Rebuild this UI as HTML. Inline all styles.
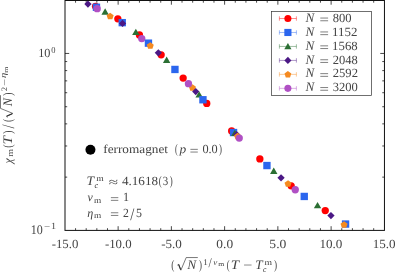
<!DOCTYPE html>
<html><head><meta charset="utf-8"><title>plot</title>
<style>
html,body{margin:0;padding:0;background:#fff;}
body{width:395px;height:272px;overflow:hidden;}
svg{display:block;will-change:transform;font-family:"Liberation Serif",serif;}
text{fill:#444;text-rendering:geometricPrecision;}
.it{font-style:italic;}
</style></head><body>
<svg width="395" height="272" viewBox="0 0 395 272">
<rect width="395" height="272" fill="#fff"/>
<path d="M75.55 230.4v-2.2M75.55 0.5V2.7M86.20 230.4v-2.2M86.20 0.5V2.7M96.84 230.4v-2.2M96.84 0.5V2.7M107.49 230.4v-2.2M107.49 0.5V2.7M118.14 230.4v-4.2M118.14 0.5V4.7M128.79 230.4v-2.2M128.79 0.5V2.7M139.44 230.4v-2.2M139.44 0.5V2.7M150.09 230.4v-2.2M150.09 0.5V2.7M160.74 230.4v-2.2M160.74 0.5V2.7M171.38 230.4v-4.2M171.38 0.5V4.7M182.03 230.4v-2.2M182.03 0.5V2.7M192.68 230.4v-2.2M192.68 0.5V2.7M203.33 230.4v-2.2M203.33 0.5V2.7M213.98 230.4v-2.2M213.98 0.5V2.7M224.62 230.4v-4.2M224.62 0.5V4.7M235.27 230.4v-2.2M235.27 0.5V2.7M245.92 230.4v-2.2M245.92 0.5V2.7M256.57 230.4v-2.2M256.57 0.5V2.7M267.22 230.4v-2.2M267.22 0.5V2.7M277.87 230.4v-4.2M277.87 0.5V4.7M288.51 230.4v-2.2M288.51 0.5V2.7M299.16 230.4v-2.2M299.16 0.5V2.7M309.81 230.4v-2.2M309.81 0.5V2.7M320.46 230.4v-2.2M320.46 0.5V2.7M331.11 230.4v-4.2M331.11 0.5V4.7M341.76 230.4v-2.2M341.76 0.5V2.7M352.40 230.4v-2.2M352.40 0.5V2.7M363.05 230.4v-2.2M363.05 0.5V2.7M373.70 230.4v-2.2M373.70 0.5V2.7M65.0 53.45h4.2M384.45 53.45h-4.2M65.0 177.13h2.2M384.45 177.13h-2.2M65.0 145.97h2.2M384.45 145.97h-2.2M65.0 123.87h2.2M384.45 123.87h-2.2M65.0 106.72h2.2M384.45 106.72h-2.2M65.0 92.71h2.2M384.45 92.71h-2.2M65.0 80.86h2.2M384.45 80.86h-2.2M65.0 70.60h2.2M384.45 70.60h-2.2M65.0 61.55h2.2M384.45 61.55h-2.2" stroke="#1a1a1a" stroke-width="0.8" fill="none"/>
<g>
<path d="M87.95 0.40L91.60 4.05L87.95 7.70L84.30 4.05Z" fill="#4b1885"/>
<circle cx="95.55" cy="6.35" r="3.65" fill="#ff0000"/>
<rect x="92.77" y="3.57" width="7.36" height="7.36" fill="#2b66ee"/>
<circle cx="97.15" cy="8.65" r="3.65" fill="#b050c4"/>
<path d="M105.15 8.35L108.85 14.70L101.45 14.70Z" fill="#2b6f33"/>
<path d="M110.15 12.65L113.67 15.21L112.32 19.34L107.98 19.34L106.63 15.21Z" fill="#f58a20"/>
<circle cx="117.85" cy="18.85" r="3.65" fill="#ff0000"/>
<rect x="118.57" y="18.97" width="7.36" height="7.36" fill="#2b66ee"/>
<path d="M122.55 19.80L126.20 23.45L122.55 27.10L118.90 23.45Z" fill="#4b1885"/>
<circle cx="139.45" cy="34.95" r="3.65" fill="#ff0000"/>
<path d="M135.85 28.65L139.55 35.00L132.15 35.00Z" fill="#2b6f33"/>
<circle cx="141.75" cy="38.55" r="3.65" fill="#b050c4"/>
<rect x="144.77" y="39.47" width="7.36" height="7.36" fill="#2b66ee"/>
<path d="M150.25 42.15L153.77 44.71L152.42 48.84L148.08 48.84L146.73 44.71Z" fill="#f58a20"/>
<circle cx="161.15" cy="54.85" r="3.65" fill="#ff0000"/>
<path d="M158.35 49.20L162.00 52.85L158.35 56.50L154.70 52.85Z" fill="#4b1885"/>
<path d="M166.65 56.55L170.35 62.90L162.95 62.90Z" fill="#2b6f33"/>
<rect x="171.27" y="65.77" width="7.36" height="7.36" fill="#2b66ee"/>
<circle cx="183.15" cy="78.05" r="3.65" fill="#ff0000"/>
<path d="M192.45 84.15L195.97 86.71L194.62 90.84L190.28 90.84L188.93 86.71Z" fill="#f58a20"/>
<circle cx="188.45" cy="83.65" r="3.65" fill="#b050c4"/>
<path d="M195.75 87.90L199.40 91.55L195.75 95.20L192.10 91.55Z" fill="#4b1885"/>
<path d="M199.15 91.25L202.85 97.60L195.45 97.60Z" fill="#2b6f33"/>
<circle cx="206.75" cy="103.45" r="3.65" fill="#ff0000"/>
<rect x="199.27" y="96.07" width="7.36" height="7.36" fill="#2b66ee"/>
<circle cx="231.65" cy="130.95" r="3.65" fill="#ff0000"/>
<rect x="229.87" y="128.87" width="7.36" height="7.36" fill="#2b66ee"/>
<path d="M234.85 129.65L238.55 136.00L231.15 136.00Z" fill="#2b6f33"/>
<path d="M236.65 130.90L240.30 134.55L236.65 138.20L233.00 134.55Z" fill="#4b1885"/>
<path d="M237.65 132.65L241.17 135.21L239.82 139.34L235.48 139.34L234.13 135.21Z" fill="#f58a20"/>
<circle cx="239.25" cy="138.05" r="3.65" fill="#b050c4"/>
<circle cx="259.85" cy="158.95" r="3.65" fill="#ff0000"/>
<rect x="263.27" y="161.87" width="7.36" height="7.36" fill="#2b66ee"/>
<path d="M273.75 167.55L277.45 173.90L270.05 173.90Z" fill="#2b6f33"/>
<path d="M281.05 174.20L284.70 177.85L281.05 181.50L277.40 177.85Z" fill="#4b1885"/>
<circle cx="291.15" cy="185.85" r="3.65" fill="#ff0000"/>
<path d="M288.05 180.15L291.57 182.71L290.22 186.84L285.88 186.84L284.53 182.71Z" fill="#f58a20"/>
<circle cx="295.25" cy="189.75" r="3.65" fill="#b050c4"/>
<rect x="300.57" y="192.77" width="7.36" height="7.36" fill="#2b66ee"/>
<path d="M317.55 201.95L321.25 208.30L313.85 208.30Z" fill="#2b6f33"/>
<circle cx="325.25" cy="210.55" r="3.65" fill="#ff0000"/>
<path d="M330.95 211.90L334.60 215.55L330.95 219.20L327.30 215.55Z" fill="#4b1885"/>
<rect x="341.87" y="220.37" width="7.36" height="7.36" fill="#2b66ee"/>
<path d="M344.05 221.15L347.57 223.71L346.22 227.84L341.88 227.84L340.53 223.71Z" fill="#f58a20"/>
</g>
<rect x="65.0" y="0.5" width="319.45" height="229.9" fill="none" stroke="#111" stroke-width="1"/>
<text transform="translate(51.67,247.60) scale(1.0667,1.0400)" font-size="12">-15.0</text>
<text transform="translate(104.92,247.60) scale(1.0667,1.0400)" font-size="12">-10.0</text>
<text transform="translate(161.15,247.60) scale(1.0888,1.0400)" font-size="12">-5.0</text>
<text transform="translate(216.37,247.60) scale(1.1146,1.0400)" font-size="12">0.0</text>
<text transform="translate(269.33,247.60) scale(1.1339,1.0400)" font-size="12">5.0</text>
<text transform="translate(319.41,247.60) scale(1.0930,1.0400)" font-size="12">10.0</text>
<text transform="translate(372.65,247.60) scale(1.0930,1.0400)" font-size="12">15.0</text>
<text transform="translate(38.17,57.00) scale(1.0202,1.0400)" font-size="12">10</text>
<text transform="translate(51.33,53.00) scale(1.0112,1.0920)" font-size="8.4">0</text>
<text transform="translate(30.79,234.00) scale(1.0011,1.0902)" font-size="12">10</text>
<text transform="translate(44.00,229.09) scale(1.3048,1.0000)" font-size="8.4">−</text>
<text transform="translate(50.95,229.00) scale(1.2174,1.1361)" font-size="8.4">1</text>
<rect x="271.55" y="11.45" width="99.94999999999999" height="84.05" fill="#fff" stroke="#333" stroke-width="0.7"/>
<path d="M279.4 18.50H296.4M279.4 16.30v4.4M296.4 16.30v4.4" stroke="#ff0000" stroke-width="0.6" fill="none" opacity="0.75"/>
<circle cx="287.90" cy="18.50" r="3.54" fill="#ff0000"/>
<text transform="translate(305.45,22.10) scale(1.0985,1.0818)" font-size="12" font-style="italic">N</text>
<path d="M320.30 18.05H328.10M320.30 20.75H328.10" stroke="#333" stroke-width="0.62" fill="none"/>
<text transform="translate(332.77,22.10) scale(1.0476,1.0400)" font-size="12">800</text>
<path d="M279.4 32.47H296.4M279.4 30.27v4.4M296.4 30.27v4.4" stroke="#2b66ee" stroke-width="0.6" fill="none" opacity="0.75"/>
<rect x="284.33" y="28.90" width="7.14" height="7.14" fill="#2b66ee"/>
<text transform="translate(305.45,35.93) scale(1.0985,1.0818)" font-size="12" font-style="italic">N</text>
<path d="M320.30 31.95H328.10M320.30 34.65H328.10" stroke="#333" stroke-width="0.62" fill="none"/>
<text transform="translate(332.11,35.93) scale(1.0770,1.0446)" font-size="12">1152</text>
<path d="M279.4 46.44H296.4M279.4 44.24v4.4M296.4 44.24v4.4" stroke="#2b6f33" stroke-width="0.6" fill="none" opacity="0.75"/>
<path d="M287.90 43.05L291.49 49.21L284.31 49.21Z" fill="#2b6f33"/>
<text transform="translate(305.45,49.76) scale(1.0985,1.0818)" font-size="12" font-style="italic">N</text>
<path d="M320.30 45.85H328.10M320.30 48.55H328.10" stroke="#333" stroke-width="0.62" fill="none"/>
<text transform="translate(332.12,49.76) scale(1.0672,1.0400)" font-size="12">1568</text>
<path d="M279.4 60.41H296.4M279.4 58.21v4.4M296.4 58.21v4.4" stroke="#4b1885" stroke-width="0.6" fill="none" opacity="0.75"/>
<path d="M287.90 56.87L291.44 60.41L287.90 63.95L284.36 60.41Z" fill="#4b1885"/>
<text transform="translate(305.45,63.59) scale(1.0985,1.0818)" font-size="12" font-style="italic">N</text>
<path d="M320.30 59.75H328.10M320.30 62.45H328.10" stroke="#333" stroke-width="0.62" fill="none"/>
<text transform="translate(332.70,63.59) scale(1.0428,1.0400)" font-size="12">2048</text>
<path d="M279.4 74.38H296.4M279.4 72.18v4.4M296.4 72.18v4.4" stroke="#f58a20" stroke-width="0.6" fill="none" opacity="0.75"/>
<path d="M287.90 70.99L291.31 73.47L290.01 77.48L285.79 77.48L284.49 73.47Z" fill="#f58a20"/>
<text transform="translate(305.45,77.42) scale(1.0985,1.0818)" font-size="12" font-style="italic">N</text>
<path d="M320.30 73.65H328.10M320.30 76.35H328.10" stroke="#333" stroke-width="0.62" fill="none"/>
<text transform="translate(332.70,77.42) scale(1.0521,1.0446)" font-size="12">2592</text>
<path d="M279.4 88.35H296.4M279.4 86.15v4.4M296.4 86.15v4.4" stroke="#b050c4" stroke-width="0.6" fill="none" opacity="0.75"/>
<circle cx="287.90" cy="88.35" r="3.54" fill="#b050c4"/>
<text transform="translate(305.45,91.25) scale(1.0985,1.0818)" font-size="12" font-style="italic">N</text>
<path d="M320.30 87.55H328.10M320.30 90.25H328.10" stroke="#333" stroke-width="0.62" fill="none"/>
<text transform="translate(332.65,91.25) scale(1.0449,1.0400)" font-size="12">3200</text>
<circle cx="90.45" cy="149.75" r="5.0" fill="#000"/>
<text transform="translate(103.24,153.30) scale(1.1049,1.0000)" font-size="12">ferromagnet</text>
<text transform="translate(174.99,153.43) scale(0.6814,1.0845)" font-size="12">(</text>
<text transform="translate(179.54,153.30) scale(1.1199,1.0000)" font-size="12" font-style="italic">p</text>
<path d="M190.40 149.35H197.80M190.40 152.05H197.80" stroke="#333" stroke-width="0.62" fill="none"/>
<text transform="translate(202.38,153.30) scale(1.0223,1.0400)" font-size="12">0.0</text>
<text transform="translate(219.06,153.43) scale(0.7463,1.0845)" font-size="12">)</text>
<text transform="translate(86.46,184.70) scale(1.1368,1.0818)" font-size="12" font-style="italic">T</text>
<text transform="translate(96.35,181.10) scale(1.1403,1.0000)" font-size="8.4">m</text>
<text transform="translate(94.50,188.00) scale(0.9764,1.0000)" font-size="8.4" font-style="italic">c</text>
<text transform="translate(108.78,186.37) scale(1.4108,1.0000)" font-size="12">≈</text>
<text transform="translate(121.89,184.70) scale(1.0957,1.0400)" font-size="12">4.1618</text>
<text transform="translate(158.76,184.83) scale(0.7463,1.0845)" font-size="12">(</text>
<text transform="translate(162.63,184.70) scale(0.9078,1.0446)" font-size="12">3</text>
<text transform="translate(169.66,184.83) scale(0.7463,1.0845)" font-size="12">)</text>
<text transform="translate(87.49,201.00) scale(0.9880,1.0000)" font-size="12" font-style="italic">ν</text>
<text transform="translate(94.05,203.00) scale(1.1082,1.0000)" font-size="8.4">m</text>
<path d="M110.90 197.65H118.30M110.90 200.35H118.30" stroke="#333" stroke-width="0.62" fill="none"/>
<text transform="translate(123.08,201.00) scale(1.0178,1.0477)" font-size="12">1</text>
<text transform="translate(87.22,217.00) scale(1.0145,1.0000)" font-size="12" font-style="italic">η</text>
<text transform="translate(94.05,218.00) scale(1.1082,1.0000)" font-size="8.4">m</text>
<path d="M110.90 212.75H118.30M110.90 215.45H118.30" stroke="#333" stroke-width="0.62" fill="none"/>
<text transform="translate(123.03,217.00) scale(0.9770,1.0446)" font-size="12">2</text>
<text transform="translate(130.15,219.73) scale(1.2298,1.4700)" font-size="12">/</text>
<text transform="translate(136.06,217.00) scale(0.9930,1.0563)" font-size="12">5</text>
<text transform="translate(171.34,269.13) scale(0.7787,1.0845)" font-size="12">(</text>
<path d="M177.30 265.20L178.60 264.40L180.90 270.20L186.20 257.55L197.80 257.55" stroke="#303030" stroke-width="0.65" fill="none" stroke-linejoin="miter"/><path d="M178.60 264.40L180.67 269.62" stroke="#303030" stroke-width="1.15" fill="none"/>
<text transform="translate(187.35,269.00) scale(1.1216,1.0818)" font-size="12" font-style="italic">N</text>
<text transform="translate(198.96,269.13) scale(0.7463,1.0845)" font-size="12">)</text>
<text transform="translate(203.25,265.00) scale(1.0821,1.0459)" font-size="8.4">1</text>
<text transform="translate(208.55,266.57) scale(1.3712,1.5661)" font-size="8.4">/</text>
<text transform="translate(213.23,265.00) scale(1.0793,1.0000)" font-size="8.4" font-style="italic">ν</text>
<text transform="translate(218.19,266.00) scale(1.2016,1.0000)" font-size="6.4">m</text>
<text transform="translate(226.87,269.13) scale(0.7138,1.0845)" font-size="12">(</text>
<text transform="translate(230.87,269.00) scale(1.2429,1.0818)" font-size="12" font-style="italic">T</text>
<text transform="translate(243.35,269.38) scale(1.3431,1.0000)" font-size="12">−</text>
<text transform="translate(255.18,269.00) scale(1.1065,1.0818)" font-size="12" font-style="italic">T</text>
<text transform="translate(264.45,265.00) scale(1.1564,1.0000)" font-size="8.4">m</text>
<text transform="translate(262.91,271.50) scale(0.9172,1.0000)" font-size="8.4" font-style="italic">c</text>
<text transform="translate(273.95,269.13) scale(0.7787,1.0845)" font-size="12">)</text>
<g transform="translate(11.6,164.8) rotate(-90)">
<text transform="translate(1.30,0.00) scale(0.9867,1.0000)" font-size="12" font-style="italic">χ</text>
<text transform="translate(7.94,1.60) scale(1.1885,1.0000)" font-size="8.4">m</text>
<text transform="translate(17.02,0.13) scale(0.8112,1.0845)" font-size="12">(</text>
<text transform="translate(20.26,0.00) scale(1.2580,1.0818)" font-size="12" font-style="italic">T</text>
<text transform="translate(30.95,0.13) scale(0.7787,1.0845)" font-size="12">)</text>
<text transform="translate(36.35,2.73) scale(1.2298,1.4700)" font-size="12">/</text>
<text transform="translate(42.74,0.13) scale(0.7787,1.0845)" font-size="12">(</text>
<path d="M47.30 -4.20L48.60 -5.00L51.40 1.20L56.40 -11.10L69.60 -11.10" stroke="#303030" stroke-width="0.65" fill="none" stroke-linejoin="miter"/><path d="M48.60 -5.00L51.12 0.58" stroke="#303030" stroke-width="1.15" fill="none"/>
<text transform="translate(58.64,0.00) scale(1.0291,1.0818)" font-size="12" font-style="italic">N</text>
<text transform="translate(69.15,0.13) scale(0.7787,1.0845)" font-size="12">)</text>
<text transform="translate(73.47,-5.00) scale(1.0394,0.9889)" font-size="8.4">2</text>
<text transform="translate(78.94,-4.41) scale(1.4583,1.0000)" font-size="8.4">−</text>
<text transform="translate(86.88,-5.40) scale(1.2503,1.0000)" font-size="8.4" font-style="italic">η</text>
<text transform="translate(92.09,-3.50) scale(1.2016,1.0000)" font-size="6.4">m</text>
</g>
</svg></body></html>
